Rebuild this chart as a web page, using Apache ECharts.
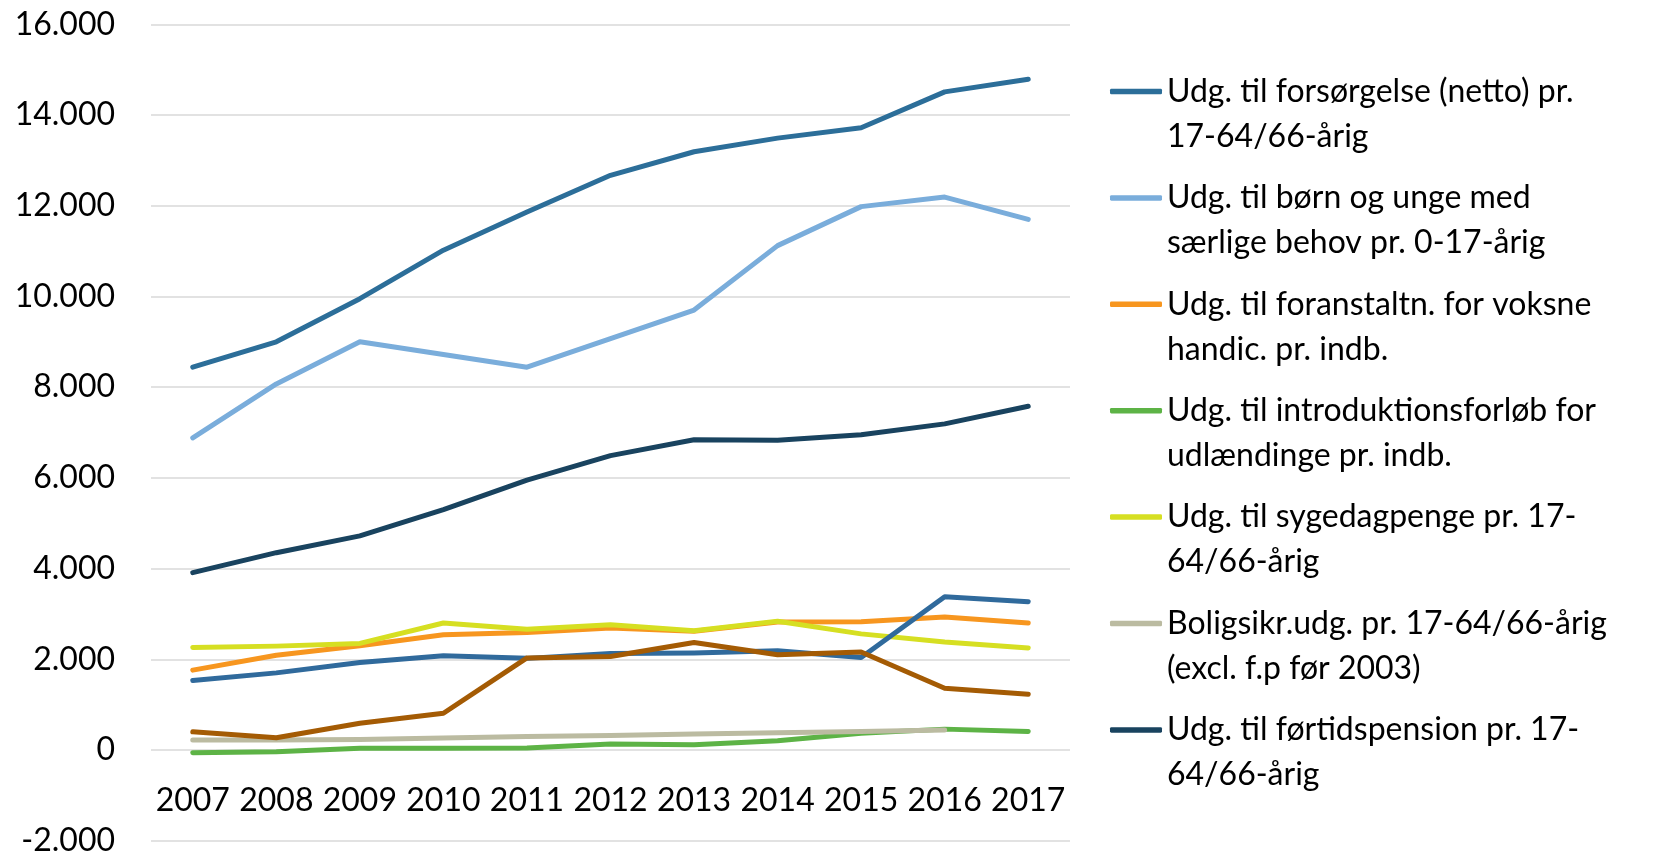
<!DOCTYPE html>
<html>
<head>
<meta charset="utf-8">
<script src="https://cdn.jsdelivr.net/npm/echarts@6/dist/echarts.min.js"></script>
<style>html,body{margin:0;padding:0;background:#fff;}#c{width:1654px;height:853px;}</style>
</head>
<body>
<div id="c"></div>
<script>
const years = ['2007','2008','2009','2010','2011','2012','2013','2014','2015','2016','2017'];
const yTicks = {min: -2000, max: 16000, interval: 2000};

const seriesNames = [
  'Udg. til forsørgelse (netto) pr. 17-64/66-årig',
  'Udg. til børn og unge med særlige behov pr. 0-17-årig',
  'Udg. til foranstaltn. for voksne handic. pr. indb.',
  'Udg. til introduktionsforløb for udlændinge pr. indb.',
  'Udg. til sygedagpenge pr. 17-64/66-årig',
  'Boligsikr.udg. pr. 17-64/66-årig (excl. f.p før 2003)',
  'Udg. til førtidspension pr. 17-64/66-årig',
  'Serie 8',
  'Serie 9'
];
const legendLabels = [
  'Udg. til forsørgelse (netto) pr.\n17-64/66-årig',
  'Udg. til børn og unge med\nsærlige behov pr. 0-17-årig',
  'Udg. til foranstaltn. for voksne\nhandic. pr. indb.',
  'Udg. til introduktionsforløb for\nudlændinge pr. indb.',
  'Udg. til sygedagpenge pr. 17-\n64/66-årig',
  'Boligsikr.udg. pr. 17-64/66-årig\n(excl. f.p før 2003)',
  'Udg. til førtidspension pr. 17-\n64/66-årig'
];

const forsorgelse    = [8440, 9000, 9950, 11020, 11860, 12670, 13190, 13490, 13720, 14510, 14790];
const bornUnge       = [6880, 8070, 9000, 8720, 8440, 9070, 9700, 11120, 11980, 12190, 11700];
const foranstaltn    = [1760, 2090, 2300, 2540, 2590, 2690, 2620, 2820, 2830, 2930, 2800];
const introduktion   = [-60, -40, 40, 40, 45, 130, 115, 205, 370, 460, 410];
const sygedagpenge   = [2260, 2290, 2350, 2800, 2660, 2760, 2630, 2840, 2560, 2380, 2250];
const boligsikring   = [220, 220, 230, 265, 295, 320, 350, 380, 410, 440, null];
const fortidspension = [3910, 4350, 4720, 5300, 5950, 6490, 6840, 6830, 6950, 7190, 7580];
const serie8         = [1530, 1700, 1930, 2080, 2020, 2130, 2140, 2190, 2040, 3380, 3270];
const serie9         = [400, 270, 590, 810, 2030, 2060, 2370, 2100, 2160, 1360, 1230];

const seriesData = [forsorgelse, bornUnge, foranstaltn, introduktion, sygedagpenge, boligsikring, fortidspension, serie8, serie9];
const colors = ['#2C6E99', '#7AADDB', '#F7961F', '#5DB346', '#D6DF22', '#BBBBA1', '#19435F', '#306A9C', '#A45B04'];

const FONT = 'Lato';
const FS = 32;

function fmt(v) {
  const s = String(Math.abs(v)).replace(/\B(?=(\d{3})+(?!\d))/g, '.');
  return (v < 0 ? '-' : '') + s;
}

const chart = echarts.init(document.getElementById('c'), null, {renderer: 'canvas'});
chart.setOption({
  animation: false,
  backgroundColor: '#fff',
  color: colors,
  grid: {left: 151, right: 584, top: 24.3, bottom: 12.3, containLabel: false, outerBoundsMode: 'none'},
  xAxis: {
    type: 'category',
    data: years,
    boundaryGap: true,
    offset: -90.7,
    axisLine: {show: false, onZero: false},
    axisTick: {show: false},
    axisLabel: {show: true, color: '#000', fontFamily: FONT, fontSize: FS, margin: 35, interval: 0, hideOverlap: false},
    splitLine: {show: false}
  },
  yAxis: {
    type: 'value',
    min: yTicks.min, max: yTicks.max, interval: yTicks.interval,
    axisLine: {show: false},
    axisTick: {show: false},
    axisLabel: {color: '#000', fontFamily: FONT, fontSize: FS, margin: 36, formatter: fmt},
    splitLine: {show: true, lineStyle: {color: '#D9D9D9', width: 1.5}}
  },
  legend: {
    show: true,
    orient: 'vertical',
    left: 1110,
    top: 24,
    padding: 0,
    icon: 'roundRect',
    itemWidth: 52,
    itemHeight: 5.5,
    itemGap: -28.6,
    data: seriesNames.slice(0, 7),
    formatter: function (name) { return '{s| }\n' + legendLabels[seriesNames.indexOf(name)]; },
    textStyle: {
      color: '#000', fontFamily: FONT, fontSize: FS, lineHeight: 45,
      rich: {s: {fontSize: 2, lineHeight: 45}}
    },
    selectedMode: false
  },
  series: seriesData.map((d, i) => ({
    name: seriesNames[i],
    type: 'line',
    data: d,
    showSymbol: false,
    symbol: 'none',
    connectNulls: false,
    lineStyle: {width: 5, color: colors[i], cap: 'round', join: 'round'},
    itemStyle: {color: colors[i]},
    emphasis: {disabled: true}
  }))
});
</script>
</body>
</html>
